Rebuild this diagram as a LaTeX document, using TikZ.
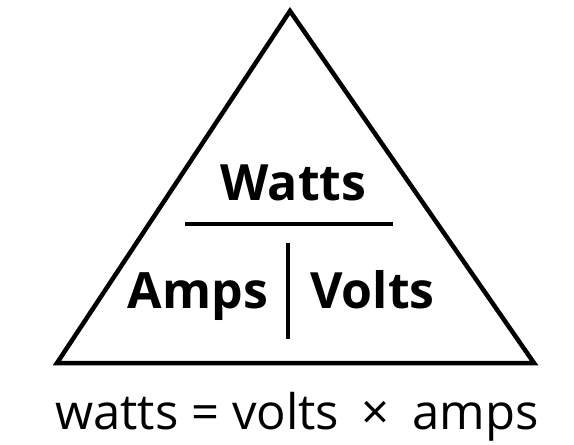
\documentclass[tikz,border=0pt]{standalone}
\usepackage{fontspec}
\setmainfont{Open Sans}
\begin{document}
\begin{tikzpicture}[x=1pt,y=-1pt,
  edge/.style={line width=4.5pt,line join=miter},
  rule/.style={line width=4pt},
  big/.style={font=\fontsize{50}{56}\selectfont\bfseries,inner sep=0pt,anchor=base},
  eq/.style={font=\fontsize{49}{55}\selectfont,inner sep=0pt,anchor=base}]
\useasboundingbox (0,0) rectangle (574,445);
\coordinate (top) at (290,11);
\coordinate (bl) at (57,363);
\coordinate (br) at (534,363);
\draw[edge] (top) -- (bl) -- (br) -- cycle;
\coordinate (hl) at (185,224);
\coordinate (hr) at (393,224);
\draw[rule] (hl) -- (hr);
\coordinate (vt) at (288,243);
\coordinate (vb) at (288,339);
\draw[rule] (vt) -- (vb);
\node[big] (watts) at (293.5,200) {Watts};
\node[big] (amps) at (198,308) {Amps};
\node[big] (volts) at (372.5,308) {Volts};
\node[eq] (formula) at (297,429) {watts = volts\hspace{0.2em} ×\hspace{0.2em} amps};
\end{tikzpicture}
\end{document}
